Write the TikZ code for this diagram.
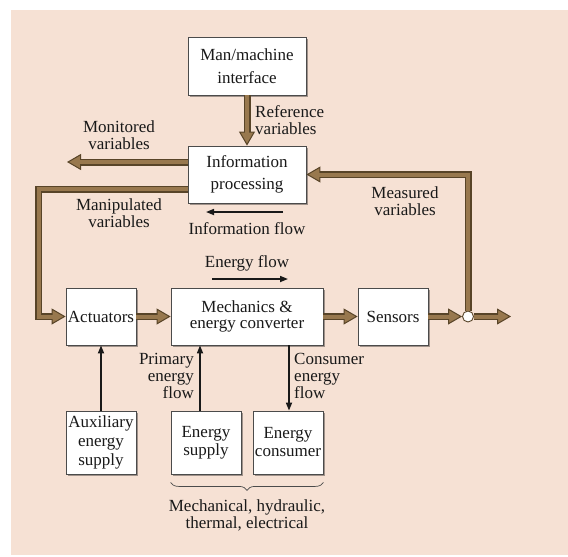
\documentclass[tikz,border=0pt]{standalone}
\usepackage{fontspec}
\setmainfont{Liberation Serif}
\usetikzlibrary{arrows.meta,shadows,decorations.pathreplacing,calc}
\definecolor{bgpeach}{RGB}{246,225,212}
\definecolor{brfill}{RGB}{152,120,78}
\definecolor{brdark}{RGB}{88,68,40}
\definecolor{ink}{RGB}{25,25,25}
\definecolor{boxline}{RGB}{75,75,75}
\tikzset{
  blk/.style={draw=boxline, line width=0.8pt, fill=white, inner sep=0pt,
    align=center, text=ink, font=\fontsize{17}{22}\selectfont,
    drop shadow={shadow xshift=2pt, shadow yshift=-2pt, fill=black, opacity=0.35}},
  lbl/.style={text=ink, inner sep=0pt, font=\fontsize{17}{17}\selectfont},
  flow/.style={draw=brdark, line width=7pt,
    -{Triangle[length=14pt 0 0, width=16pt 0 0, line width=1pt, fill=brfill]},
    postaction={draw=brfill, line width=4pt, arrows=-, shorten >=8pt}},
  sig/.style={draw=ink, line width=1.6pt,
    -{Triangle[length=8pt 0 0, width=6pt 0 0]}},
}
\begin{document}
\begin{tikzpicture}[x=1pt, y=-1pt]
\useasboundingbox (0,0) rectangle (568,557);
\fill[bgpeach] (11,10) rectangle (568,555);

% blocks
\node[blk, minimum width=118pt, minimum height=58pt, font=\fontsize{17}{23}\selectfont] (man) at (247,66) {Man/machine\\interface};
\node[blk, minimum width=118pt, minimum height=57pt] (info) at (247,174.5) {Information\\processing};
\node[blk, minimum width=70pt, minimum height=57pt] (act) at (101,316.5) {Actuators};
\node[blk, minimum width=152pt, minimum height=57pt, font=\fontsize{17}{16.5}\selectfont] (mech) at (247,316.5) {Mechanics \&\\energy converter};
\node[blk, minimum width=70pt, minimum height=57pt] (sens) at (393,316.5) {Sensors};
\node[blk, minimum width=70pt, minimum height=63pt, font=\fontsize{17}{19}\selectfont] (aux) at (101,442.5) {Auxiliary\\energy\\supply};
\node[blk, minimum width=70pt, minimum height=63pt, font=\fontsize{17}{18}\selectfont] (esup) at (206,442.5) {Energy\\supply};
\node[blk, minimum width=70pt, minimum height=63pt, font=\fontsize{17}{18}\selectfont] (econ) at (288,442.5) {Energy\\consumer};

% junction and free ends
\node[circle, draw=brdark, fill=white, line width=0.9pt, minimum size=11pt, inner sep=0pt] (junc) at (468,316.5) {};
\coordinate (monout) at (67,162);
\coordinate (plantout) at (511,316.5);
\coordinate (infoA) at (283,212);
\coordinate (infoB) at (206,212);
\coordinate (enA) at (212,279);
\coordinate (enB) at (288,279);

% energy and information paths
\draw[flow] (man) -- (info);
\draw[flow] ([yshift=12.5pt]info.west) -- (monout);
\draw[flow] ([yshift=-14.5pt]info.west) -| ([xshift=-27pt]act.west) -- (act.west);
\draw[flow] (act) -- (mech);
\draw[flow] (mech) -- (sens);
\draw[flow] (sens) -- (junc);
\draw[flow] (junc.east) -- (plantout);
\draw[flow] (junc.north) |- (info.east);

% thin arrows
\draw[sig] (infoA) -- (infoB);
\draw[sig] (enA) -- (enB);
\draw[sig] (aux) -- (act);
\draw[sig] ([xshift=-6pt]esup.north) -- ([xshift=-6pt]esup.north |- mech.south);
\draw[sig] ([xshift=1pt]econ.north |- mech.south) -- ([xshift=1pt]econ.north);

% labels
\node[lbl, anchor=west, align=left] at (255,120) {Reference\\variables};
\node[lbl, align=center] at (119,135) {Monitored\\variables};
\node[lbl, align=center] at (119,213) {Manipulated\\variables};
\node[lbl, align=center] at (405,201) {Measured\\variables};
\node[lbl] at (247,229) {Information flow};
\node[lbl] at (247,263) {Energy flow};
\node[lbl, anchor=east, align=right] at (194,376) {Primary\\energy\\flow};
\node[lbl, anchor=west, align=left] at (294,376) {Consumer\\energy\\flow};

% brace under the energy blocks
\draw[boxline, line width=0.7pt, decorate, decoration={brace, amplitude=8pt}]
  ([yshift=-8pt]econ.south east) -- ([yshift=-8pt]esup.south west);
\node[lbl, align=center] at (247,515) {Mechanical, hydraulic,\\thermal, electrical};
\end{tikzpicture}
\end{document}
